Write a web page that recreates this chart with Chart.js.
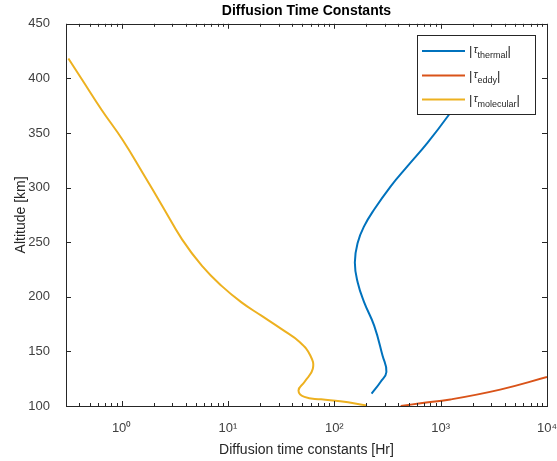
<!DOCTYPE html>
<html>
<head>
<meta charset="utf-8">
<script src="https://cdn.jsdelivr.net/npm/chart.js@4"></script>
<style>
  body { margin: 0; background: #fff; }
</style>
</head>
<body>
<canvas id="myChart" width="557" height="461"></canvas>
<script>
// altitude [km] / time constant [Hr]
const altThermal = [111.3, 122.0, 131.1, 146.2, 173.6, 194.9, 213.1, 231.4, 249.6, 264.7, 279.9, 301.2, 319.4, 340.7, 366.5, 390.6, 420.4];
const tauThermal = [224, 272, 309, 284, 237, 191, 166, 156, 166, 191, 237, 339, 486, 748, 1191, 1762, 2987];

const altEddy = [100, 102.5, 106, 115, 126.5];
const tauEddy = [421, 647, 1235, 3625, 10000];

const altMolecular = [418.2, 398.5, 371.1, 343.8, 313.4, 283.0, 252.6, 228.3, 210.0, 194.9, 182.7, 170.6, 158.4, 146.2, 134.1, 122.0, 114.3, 108.3, 106.1, 104.3, 100.5];
const tauMolecular = [0.316, 0.427, 0.650, 1.02, 1.58, 2.42, 3.70, 5.70, 8.71, 13.41, 20.62, 31.72, 47.5, 59.5, 62.8, 52.4, 46.05, 52.4, 75.1, 113.8, 202];

const xMajor = [1, 10, 100, 1000, 10000];
const xTickLabels = ['10⁰', '10¹', '10²', '10³', '10⁴'];
const yTicks = [100, 150, 200, 250, 300, 350, 400, 450];

const seriesNames = ['thermal', 'eddy', 'molecular'];
const seriesColors = ['#0072BD', '#D95319', '#EDB120'];

const ctx = document.getElementById('myChart').getContext('2d');
const FONT = "'Liberation Sans', Arial, Helvetica, sans-serif";

const toPoints = (xs, ys) => xs.map((v, i) => ({ x: v, y: ys[i] }));

// matlab style box + inward ticks
const axesBox = {
    id: 'axesBox',
    afterDatasetsDraw(chart) {
        const { ctx, chartArea: a, scales: { x, y } } = chart;
        ctx.save();
        ctx.strokeStyle = '#262626';
        ctx.lineWidth = 1;
        ctx.beginPath();
        x.ticks.forEach(t => {
            const px = Math.round(x.getPixelForValue(t.value)) + 0.5;
            const len = t.major ? 5 : 3;
            ctx.moveTo(px, a.bottom); ctx.lineTo(px, a.bottom - len);
            ctx.moveTo(px, a.top); ctx.lineTo(px, a.top + len);
        });
        y.ticks.forEach(t => {
            const py = Math.round(y.getPixelForValue(t.value)) + 0.5;
            ctx.moveTo(a.left, py); ctx.lineTo(a.left + 5, py);
            ctx.moveTo(a.right, py); ctx.lineTo(a.right - 5, py);
        });
        ctx.stroke();
        ctx.strokeRect(Math.round(a.left) + 0.5, Math.round(a.top) + 0.5,
            Math.round(a.right - a.left), Math.round(a.bottom - a.top));
        ctx.restore();
    }
};

// legend with subscripts
const texLegend = {
    id: 'texLegend',
    afterDraw(chart) {
        const { ctx } = chart;
        const bx = 417.5, by = 35.5, bw = 118, bh = 79;
        ctx.save();
        ctx.fillStyle = '#fff';
        ctx.fillRect(bx, by, bw, bh);
        ctx.strokeStyle = '#262626';
        ctx.lineWidth = 1;
        ctx.strokeRect(bx, by, bw, bh);
        const rows = [51, 75.5, 99.5];
        chart.data.datasets.forEach((ds, i) => {
            const yy = rows[i];
            ctx.strokeStyle = ds.borderColor;
            ctx.lineWidth = 2;
            ctx.beginPath();
            ctx.moveTo(422, yy); ctx.lineTo(465, yy);
            ctx.stroke();
            ctx.fillStyle = '#262626';
            ctx.textBaseline = 'alphabetic';
            let tx = 469;
            ctx.font = '13px ' + FONT;
            ctx.fillText('|', tx, yy + 4);
            tx += ctx.measureText('|').width + 1;
            ctx.font = 'italic 11px ' + FONT;
            ctx.fillText('τ', tx, yy + 2);
            tx += ctx.measureText('τ').width;
            ctx.font = '9px ' + FONT;
            ctx.fillText(seriesNames[i], tx, yy + 7);
            tx += ctx.measureText(seriesNames[i]).width;
            ctx.font = '13px ' + FONT;
            ctx.fillText('|', tx, yy + 4);
        });
        ctx.restore();
    }
};

const lineSet = (label, data, color) => ({
    label: label,
    data: data,
    borderColor: color,
    backgroundColor: color,
    borderWidth: 2,
    pointRadius: 0,
    showLine: true,
    tension: 0.45,
    fill: false
});

const chart = new Chart(ctx, {
    type: 'scatter',
    data: {
        datasets: [
            lineSet('|τthermal|', toPoints(tauThermal, altThermal), seriesColors[0]),
            lineSet('|τeddy|', toPoints(tauEddy, altEddy), seriesColors[1]),
            lineSet('|τmolecular|', toPoints(tauMolecular, altMolecular), seriesColors[2])
        ]
    },
    options: {
        responsive: false,
        animation: false,
        layout: { padding: { top: 0, right: 10, bottom: 0, left: 0 } },
        plugins: {
            legend: { display: false },
            tooltip: { enabled: false },
            title: {
                display: true,
                fullSize: false,
                text: 'Diffusion Time Constants',
                color: '#000',
                font: { family: FONT, size: 14, weight: 'bold' },
                padding: { top: 3, bottom: 4 }
            }
        },
        scales: {
            x: {
                type: 'logarithmic',
                min: Math.pow(10, -0.5),
                max: 10000,
                grid: { display: false },
                border: { display: false },
                afterBuildTicks: (scale) => {
                    const ticks = [];
                    for (let e = -1; e <= 3; e++) {
                        for (let m = 1; m <= 9; m++) {
                            const v = m * Math.pow(10, e);
                            if (v >= scale.min && v <= scale.max) ticks.push({ value: v, major: m === 1 });
                        }
                    }
                    ticks.push({ value: 10000, major: true });
                    scale.ticks = ticks;
                },
                afterFit: (scale) => {
                    scale.height = 55;
                    scale.paddingLeft = 0;
                    scale.paddingRight = 0;
                },
                ticks: {
                    autoSkip: false,
                    maxRotation: 0,
                    padding: 7,
                    color: '#404040',
                    font: { family: FONT, size: 13 },
                    callback: (value) => {
                        const i = xMajor.findIndex(v => Math.abs(v - value) < 1e-9 * v);
                        return i >= 0 ? xTickLabels[i] : '';
                    }
                },
                title: {
                    display: true,
                    text: 'Diffusion time constants [Hr]',
                    color: '#262626',
                    font: { family: FONT, size: 14 },
                    padding: { top: 0, bottom: 2 }
                }
            },
            y: {
                min: 100,
                max: 450,
                grid: { display: false },
                border: { display: false },
                afterBuildTicks: (scale) => {
                    scale.ticks = yTicks.map(v => ({ value: v }));
                },
                afterFit: (scale) => { scale.width = 66; },
                ticks: {
                    padding: 8,
                    color: '#404040',
                    font: { family: FONT, size: 13 }
                },
                title: {
                    display: true,
                    text: 'Altitude [km]',
                    color: '#262626',
                    font: { family: FONT, size: 14 },
                    padding: { top: 13, bottom: 0 }
                }
            }
        }
    },
    plugins: [axesBox, texLegend]
});
</script>
</body>
</html>
